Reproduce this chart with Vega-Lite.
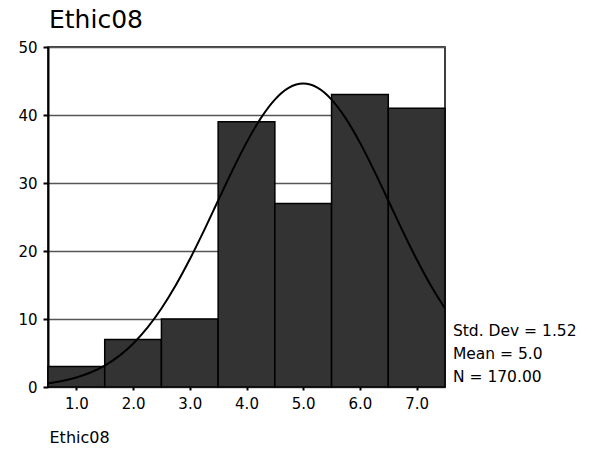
{
  "$schema": "https://vega.github.io/schema/vega-lite/v6.json",
  "width": 397,
  "height": 340,
  "autosize": {"type": "none"},
  "padding": {"left": 48, "top": 47, "right": 163, "bottom": 70},
  "background": "white",
  "config": {
    "font": "DejaVu Sans",
    "view": {"stroke": "black", "strokeWidth": 1.5}
  },
  "title": {
    "text": "Ethic08",
    "anchor": "start",
    "frame": "group",
    "fontSize": 25,
    "fontWeight": "normal",
    "font": "DejaVu Sans",
    "color": "black",
    "offset": 7,
    "dx": 1
  },
  "datasets": {
    "bins": [
      {"value": 1.0, "lo": 0.5, "hi": 1.5, "count": 3},
      {"value": 2.0, "lo": 1.5, "hi": 2.5, "count": 7},
      {"value": 3.0, "lo": 2.5, "hi": 3.5, "count": 10},
      {"value": 4.0, "lo": 3.5, "hi": 4.5, "count": 39},
      {"value": 5.0, "lo": 4.5, "hi": 5.5, "count": 27},
      {"value": 6.0, "lo": 5.5, "hi": 6.5, "count": 43},
      {"value": 7.0, "lo": 6.5, "hi": 7.5, "count": 41}
    ],
    "curve": [
      {"x": 0.5, "y": 0.558}, {"x": 0.75, "y": 0.895}, {"x": 1.0, "y": 1.399}, {"x": 1.25, "y": 2.127},
      {"x": 1.5, "y": 3.149}, {"x": 1.75, "y": 4.537}, {"x": 2.0, "y": 6.364}, {"x": 2.25, "y": 8.684},
      {"x": 2.5, "y": 11.537}, {"x": 2.75, "y": 14.918}, {"x": 3.0, "y": 18.775}, {"x": 3.25, "y": 22.998},
      {"x": 3.5, "y": 27.42}, {"x": 3.75, "y": 31.819}, {"x": 4.0, "y": 35.936}, {"x": 4.25, "y": 39.506},
      {"x": 4.5, "y": 42.27}, {"x": 4.75, "y": 44.02}, {"x": 5.0, "y": 44.62}, {"x": 5.25, "y": 44.02},
      {"x": 5.5, "y": 42.27}, {"x": 5.75, "y": 39.506}, {"x": 6.0, "y": 35.936}, {"x": 6.25, "y": 31.819},
      {"x": 6.5, "y": 27.42}, {"x": 6.75, "y": 22.998}, {"x": 7.0, "y": 18.775}, {"x": 7.25, "y": 14.918},
      {"x": 7.5, "y": 11.537}
    ],
    "stats": [
      {"x": 7.64, "y": 8.2, "label": "Std. Dev = 1.52"},
      {"x": 7.64, "y": 4.85, "label": "Mean = 5.0"},
      {"x": 7.64, "y": 1.5, "label": "N = 170.00"}
    ]
  },
  "layer": [
    {
      "data": {"name": "bins"},
      "mark": {"type": "bar", "fill": "#333333", "stroke": "black", "strokeWidth": 1.5},
      "encoding": {
        "x": {
          "field": "lo", "type": "quantitative",
          "scale": {"domain": [0.5, 7.5], "nice": false, "zero": false},
          "axis": {
            "title": "Ethic08",
            "titleAnchor": "start",
            "titleAlign": "left",
            "titleFontSize": 16,
            "titleFontWeight": "normal",
            "titleColor": "black",
            "titlePadding": 18,
            "titleX": 1,
            "values": [1, 2, 3, 4, 5, 6, 7],
            "format": ".1f",
            "labelFontSize": 15,
            "labelColor": "black",
            "labelPadding": 6,
            "domain": false,
            "grid": false,
            "tickColor": "black",
            "tickSize": 3,
            "tickWidth": 2
          }
        },
        "x2": {"field": "hi"},
        "y": {
          "field": "count", "type": "quantitative",
          "scale": {"domain": [0, 50], "nice": false},
          "axis": {
            "title": null,
            "values": [0, 10, 20, 30, 40, 50],
            "labelFontSize": 15,
            "labelColor": "black",
            "labelPadding": 6,
            "domainColor": "black",
            "domainWidth": 2,
            "tickColor": "black",
            "tickSize": 5,
            "tickWidth": 2,
            "grid": true,
            "gridColor": "#555555",
            "gridWidth": 1.5,
            "gridOpacity": 1
          }
        },
        "y2": {"datum": 0}
      }
    },
    {
      "data": {"name": "curve"},
      "mark": {"type": "line", "color": "black", "strokeWidth": 2, "interpolate": "monotone"},
      "encoding": {
        "x": {"field": "x", "type": "quantitative"},
        "y": {"field": "y", "type": "quantitative"}
      }
    },
    {
      "data": {"name": "stats"},
      "mark": {"type": "text", "align": "left", "baseline": "middle", "fontSize": 15.5, "color": "black", "clip": false},
      "encoding": {
        "x": {"field": "x", "type": "quantitative"},
        "y": {"field": "y", "type": "quantitative"},
        "text": {"field": "label"}
      }
    }
  ]
}
